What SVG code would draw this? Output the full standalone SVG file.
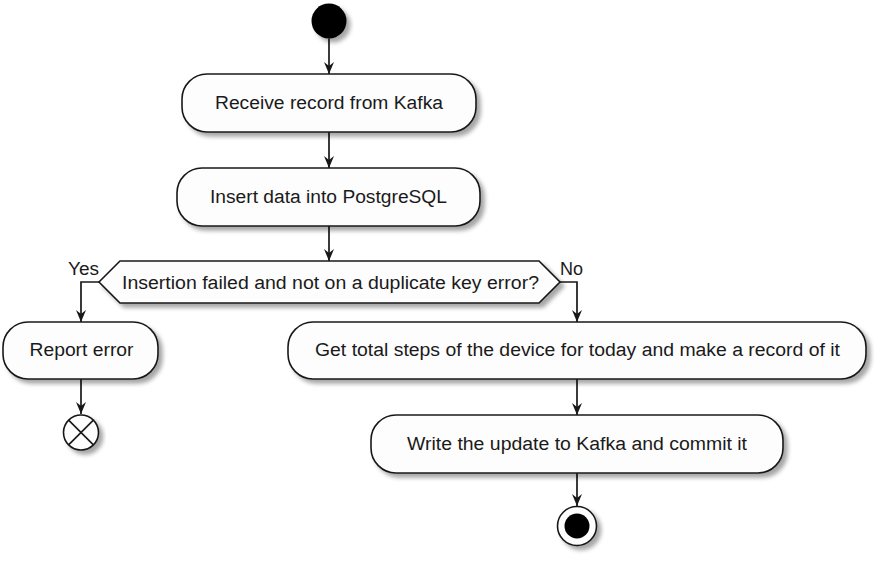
<svg xmlns="http://www.w3.org/2000/svg" width="881" height="563" viewBox="0 0 881 563">
<style>
.box{fill:#FDFDFD;stroke:#181818;stroke-width:1.6}
.t{font-family:"Liberation Sans",Arial,sans-serif;font-size:17.6px;fill:#1a1a1a}
.edge{fill:none;stroke:#181818;stroke-width:1.7}
</style>
<defs>
<filter id="sh" x="-10%" y="-20%" width="130%" height="160%">
<feDropShadow dx="4" dy="4" stdDeviation="2.2" flood-color="#000" flood-opacity="0.35"/>
</filter>
<marker id="ah" viewBox="0 0 12 12" markerWidth="12" markerHeight="12" refX="12" refY="6" orient="auto" markerUnits="userSpaceOnUse">
<polygon points="0,1 12,6 0,11 4,6" fill="#181818"/>
</marker>
</defs>
<rect width="881" height="563" fill="#FFFFFF"/>
<g id="connectors">
<line class="edge" x1="329" y1="38.5" x2="329" y2="74" marker-end="url(#ah)"/>
<line class="edge" x1="329" y1="132" x2="329" y2="168" marker-end="url(#ah)"/>
<line class="edge" x1="329" y1="226" x2="329" y2="261" marker-end="url(#ah)"/>
<polyline class="edge" points="99,282 81,282 81,322" marker-end="url(#ah)"/>
<line class="edge" x1="81" y1="379" x2="81" y2="414" marker-end="url(#ah)"/>
<polyline class="edge" points="560,282 577,282 577,322" marker-end="url(#ah)"/>
<line class="edge" x1="577" y1="379" x2="577" y2="415" marker-end="url(#ah)"/>
<line class="edge" x1="577" y1="473" x2="577" y2="506" marker-end="url(#ah)"/>
<text class="t" x="68" y="275" textLength="31" lengthAdjust="spacingAndGlyphs">Yes</text>
<text class="t" x="560" y="275" textLength="23" lengthAdjust="spacingAndGlyphs">No</text>
</g>
<g id="start">
<circle cx="329" cy="21" r="17.5" fill="#000" filter="url(#sh)"/>
</g>
<g id="receive">
<rect class="box" x="182" y="74" width="294" height="58" rx="25" ry="25" filter="url(#sh)"/>
<text class="t" x="215" y="109" textLength="228" lengthAdjust="spacingAndGlyphs">Receive record from Kafka</text>
</g>
<g id="insert">
<rect class="box" x="177" y="168" width="303" height="58" rx="25" ry="25" filter="url(#sh)"/>
<text class="t" x="210" y="202.5" textLength="237" lengthAdjust="spacingAndGlyphs">Insert data into PostgreSQL</text>
</g>
<g id="decision">
<polygon class="box" points="99,282 120,261 539,261 560,282 539,303 120,303" filter="url(#sh)"/>
<text class="t" x="122" y="288.5" textLength="417" lengthAdjust="spacingAndGlyphs">Insertion failed and not on a duplicate key error?</text>
</g>
<g id="report">
<rect class="box" x="3" y="322" width="155" height="57" rx="25" ry="25" filter="url(#sh)"/>
<text class="t" x="29.5" y="356" textLength="104" lengthAdjust="spacingAndGlyphs">Report error</text>
</g>
<g id="stop">
<g filter="url(#sh)">
<circle cx="81" cy="432.5" r="17.5" fill="#FDFDFD" stroke="#181818" stroke-width="1.6"/>
</g>
<line x1="68.6" y1="420.1" x2="93.4" y2="444.9" stroke="#181818" stroke-width="1.6"/>
<line x1="93.4" y1="420.1" x2="68.6" y2="444.9" stroke="#181818" stroke-width="1.6"/>
</g>
<g id="total">
<rect class="box" x="288" y="322" width="578" height="57" rx="25" ry="25" filter="url(#sh)"/>
<text class="t" x="315" y="356" textLength="525" lengthAdjust="spacingAndGlyphs">Get total steps of the device for today and make a record of it</text>
</g>
<g id="write">
<rect class="box" x="371" y="415" width="412" height="58" rx="25" ry="25" filter="url(#sh)"/>
<text class="t" x="407" y="449.5" textLength="340" lengthAdjust="spacingAndGlyphs">Write the update to Kafka and commit it</text>
</g>
<g id="end">
<circle cx="577" cy="526" r="19.5" fill="#FDFDFD" stroke="#181818" stroke-width="1.6" filter="url(#sh)"/>
<circle cx="577" cy="526" r="12.5" fill="#000"/>
</g>
</svg>
